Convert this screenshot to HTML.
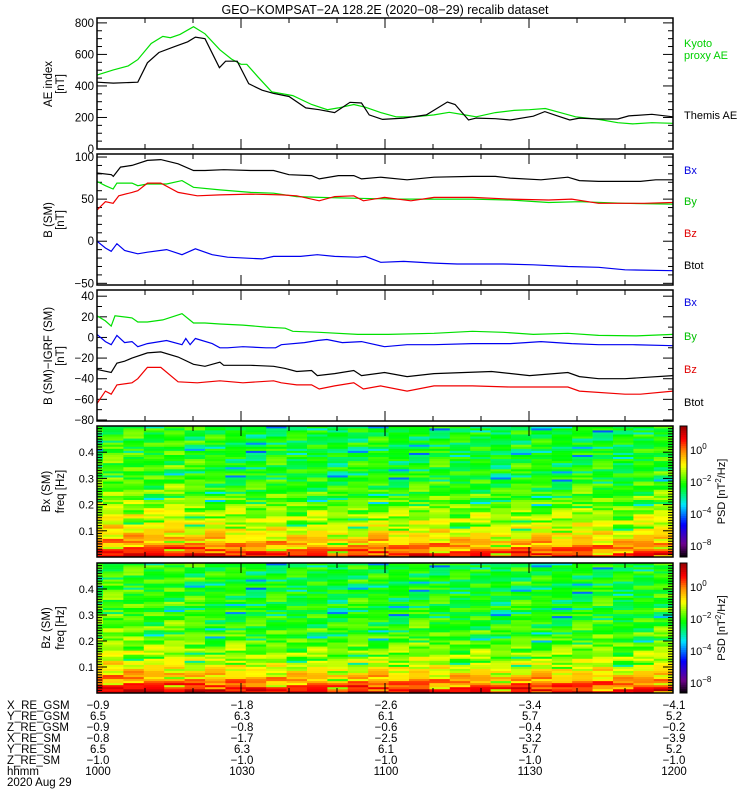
<!DOCTYPE html>
<html><head><meta charset="utf-8"><style>
body{margin:0;background:#fff;}
svg{display:block;font-family:"Liberation Sans",sans-serif;}
</style></head><body>
<svg id="chart" width="750" height="800" viewBox="0 0 750 800" xmlns="http://www.w3.org/2000/svg">
<text x="385" y="14" font-size="12.5" text-anchor="middle">GEO−KOMPSAT−2A 128.2E (2020−08−29) recalib dataset</text>
<g id="g"></g>
</svg>
<script>
// ---------- data ----------
const kyotoAE=[[0,469],[3.4,502],[6.5,527],[8.5,567],[11.3,669],[13.7,714],[15.3,706],[17.3,727],[20.1,776],[22.5,731],[25.6,629],[28,571],[30,537],[31.2,537],[33.6,455],[36.4,363],[40.8,339],[44.7,282],[48,249],[50.3,261],[53.5,282],[55.9,265],[59.1,231],[62.3,204],[66.2,204],[70.2,216],[73.4,233],[76.6,216],[79,204],[83,231],[86.9,245],[90.1,249],[93.4,257],[96.5,231],[99.7,204],[104.5,188],[108.5,167],[111.6,159],[115.6,167],[120,163]];
const themisAE=[[0,424],[3.4,418],[8.5,424],[10.5,547],[12.9,612],[16.1,649],[18.9,680],[20.5,710],[22.5,700],[24,608],[25.5,516],[26.8,557],[29.2,557],[31.6,414],[34.4,373],[36.8,353],[40,333],[43.5,261],[46.3,249],[49.5,231],[52.7,296],[55.1,292],[56.7,216],[59.5,188],[63.9,196],[68.6,216],[71,261],[73,298],[74.6,282],[77.4,184],[79,196],[83,192],[86.1,184],[90.9,208],[93.3,237],[95.7,212],[98.5,184],[100.5,196],[104.5,190],[108.5,190],[110.8,210],[115.6,220],[120,204]];
const bBtot=[[0,81],[3,79],[3.4,77],[4.9,88],[7.3,90],[10.5,96],[13.3,97],[16.9,92],[20.1,84],[22.5,84],[26.4,85],[32,84],[36.8,84],[40,79],[44.7,78],[46.3,74],[50.3,78],[53.5,78],[55.1,74],[59.1,76],[64.6,73],[70.2,76],[78.2,77],[83,77],[86.1,75],[92.5,73],[98.1,76],[100.5,72],[104.5,71],[110,71],[113.2,71],[116.4,73],[120,73]];
const bBy=[[0,71],[1.75,66],[3.35,62],[4.15,69],[7.3,69],[8.5,66],[10.5,68],[14.5,68],[17.7,72],[20.1,64],[25.6,61],[32,58],[36.8,57],[41.6,53],[46.3,52],[54.3,51],[62.3,50],[70.2,50],[78.2,50],[86.1,49],[94.1,46],[100.5,47],[110,45],[120,44]];
const bBz=[[0,37],[1.75,47],[3.35,45],[4.55,54],[7.3,58],[8.5,60],[10.5,69],[13.3,69],[16.9,58],[20.9,54],[25.6,55],[32,56],[38.4,55],[41.6,54],[46.3,48],[49.5,53],[53.5,54],[55.5,48],[59.9,52],[65.4,48],[70.2,52],[78.2,52],[86.1,50],[94.1,49],[98.9,50],[104.5,45],[114,45],[120,46]];
const bBx=[[0,0],[1.75,-8],[2.95,-12],[4.15,-3],[5.75,-11],[8.5,-15],[10.5,-13],[14.5,-10],[17.7,-16],[20.5,-9],[24,-16],[27.2,-19],[34.4,-21],[36.8,-18],[42.4,-18],[45.9,-16],[49.5,-18],[54.3,-19],[55.9,-18],[59.1,-25],[63.9,-24],[70.2,-26],[75,-27],[84.6,-27],[90.9,-28],[98.1,-30],[104.5,-31],[110,-34],[120,-35]];
const dBy=[[0,21],[1.75,16],[2.95,11],[3.75,21],[7.3,19],[8.5,15],[10.5,15],[13.7,17],[15.7,20],[17.7,23],[20.1,14],[22.5,14],[25.6,13],[30.4,12],[35.2,10],[39.2,9],[40.8,6],[46.3,5],[54.3,3],[60.7,3],[70.2,4],[78.2,6],[84.6,5],[90.9,3],[98.1,4],[104.5,2],[112.4,1.5],[120,3]];
const dBx=[[0,3],[1.75,-4],[2.95,-7],[4.15,2],[5.75,-5],[7.3,-4],[8.5,-9],[10.5,-6],[14.5,-3],[17.7,-7],[18.5,-1],[19.4,-7],[20.5,-1],[24,-6],[25.6,-10],[27.2,-10],[30.4,-9],[35.2,-10],[37.2,-10],[38.4,-7],[43.2,-5],[45.9,-3],[47.9,-2],[51.1,-5],[55.1,-4],[59.9,-9],[64.6,-7],[70.2,-7],[78.2,-6],[86.1,-6],[92.5,-4],[98.9,-6],[104.5,-7],[111.6,-7],[120,-8]];
const dBtot=[[0,-31],[2.95,-34],[4.15,-25],[5.75,-23],[7.3,-20],[10.5,-15],[13.3,-14],[16.9,-19],[20.1,-26],[22.5,-28],[25.6,-24],[26.4,-27],[32,-27],[36.8,-28],[39.2,-30],[41.6,-33],[44.7,-32],[45.9,-37],[49.5,-35],[53.5,-32],[55.1,-37],[59.9,-34],[64.6,-38],[70.2,-35],[82.2,-33],[90.1,-37],[98.1,-34],[100.5,-38],[104.5,-40],[110,-40],[113.2,-39],[120,-37]];
const dBz=[[0,-64],[1.75,-52],[2.95,-55],[4.15,-46],[7.3,-44],[8.5,-40],[10.5,-29],[13.3,-29],[16.9,-43],[20.9,-44],[25.6,-42],[30.4,-44],[36.8,-42],[38.4,-44],[41.6,-46],[44.7,-46],[46.3,-50],[49.5,-47],[53.5,-44],[55.5,-50],[59.1,-47],[64.6,-52],[70.2,-47],[78.2,-47],[86.1,-48],[98.1,-48],[100.5,-52],[110,-55],[113.2,-55],[120,-52]];
// spectrogram: frequency profile (colormap level) at these frequencies
const specFreqs=[0,0.025,0.05,0.075,0.1,0.15,0.2,0.25,0.3,0.4,0.5];
const specLevelBx=[0.91,0.84,0.77,0.72,0.69,0.645,0.605,0.57,0.55,0.535,0.525];
const specLevelBz=[0.93,0.86,0.78,0.72,0.68,0.625,0.59,0.565,0.55,0.54,0.535];
const colOffsetBx=[0.02,0.04,0.03,0.02,0.04,0.02,0.01,0,-0.01,0.01,-0.01,0,-0.02,0,0.01,-0.01,0,0.01,-0.01,0,-0.02,0.01,0,-0.01,0.01,0,-0.02,0.01,0.02];
const colOffsetBz=[0.03,0.04,0.03,0.02,0.03,0.02,0,0.01,-0.01,0,-0.01,0,-0.02,0.01,0,-0.01,0.01,0,-0.01,0,-0.02,0.01,0,-0.01,0,0.01,-0.02,0,0.02];
const jitter=[0.02,-0.05,0.06,-0.01,0.03,-0.09,0.04,0.0,-0.03,0.07,-0.06,0.01,0.05,-0.02,-0.2,0.03,-0.04,0.08,-0.07,0.02,0.0,-0.1,0.05,-0.03,0.06,-0.05,0.01,0.04,-0.08,0.03,-0.01,0.07,-0.04,0.02,-0.12,0.05,-0.02,0.0,0.06,-0.06,0.03,-0.03,0.08,-0.01,-0.05,0.04,-0.22,0.02,0.05,-0.07,0.01,0.03,-0.04,0.06,-0.02,0.0,-0.09,0.04,0.07,-0.03,0.02,-0.06,0.05,-0.01,0.03,-0.11,0.06,-0.04,0.01,0.08,-0.02,-0.05,0.04,0.0,-0.18,0.03,0.06,-0.03,0.02,-0.07,0.05,-0.01,0.04,-0.04,0.07,-0.02,0.01,-0.1,0.05,0.02,-0.05,0.06,-0.03,0.0,0.04,-0.06,0.03];
const timeTicks=[0,30,60,90,120];
const ephemNames=["X_RE_GSM","Y_RE_GSM","Z_RE_GSM","X_RE_SM","Y_RE_SM","Z_RE_SM","hhmm"];
const ephemValues=[["−0.9","−1.8","−2.6","−3.4","−4.1"],["6.5","6.3","6.1","5.7","5.2"],["−0.9","−0.8","−0.6","−0.4","−0.2"],["−0.8","−1.7","−2.5","−3.2","−3.9"],["6.5","6.3","6.1","5.7","5.2"],["−1.0","−1.0","−1.0","−1.0","−1.0"],["1000","1030","1100","1130","1200"]];

// ---------- helpers ----------
const NS="http://www.w3.org/2000/svg";
const G=document.getElementById('g');
const X0=97,X1=673;
const xs=m=>X0+(m/120)*(X1-X0);
function el(tag,attrs,parent){const e=document.createElementNS(NS,tag);for(const k in attrs)e.setAttribute(k,attrs[k]);(parent||G).appendChild(e);return e;}
function txt(s,x,y,attrs,parent){const e=el('text',Object.assign({x:x,y:y,'font-size':11},attrs||{}),parent);e.textContent=s;return e;}

function panel(name,top,bot,vmin,vmax,major,minor){
  const ys=v=>bot-(v-vmin)/(vmax-vmin)*(bot-top);
  const g=el('g',{});
  
  
  const start=Math.ceil(vmin/minor)*minor;
  for(let v=start;v<=vmax+1e-9;v+=minor){
    const isMaj=Math.abs(v/major-Math.round(v/major))<1e-6;
    const L=isMaj?10:5, y=ys(v);
    el('line',{x1:X0,x2:X0+L,y1:y,y2:y,stroke:'#000','stroke-width':1},g);
    el('line',{x1:X1,x2:X1-L,y1:y,y2:y,stroke:'#000','stroke-width':1},g);
    if(isMaj){const t=txt(String(v).replace('-','−'),X0-3,y+4,{'text-anchor':'end','font-size':11.5},g);
      }
  }
  timeAxis(g,top,bot);
  return {ys,g};
}
function timeAxis(g,top,bot){
  for(let m=0;m<=120;m+=10){
    const L=(m%30===0)?10:5,x=xs(m);
    el('line',{x1:x,x2:x,y1:bot,y2:bot-L,stroke:'#000'},g);
    el('line',{x1:x,x2:x,y1:top,y2:top+L,stroke:'#000'},g);
  }
}
function frame(g,top,bot){el('rect',{x:X0,y:top,width:X1-X0,height:bot-top,fill:'none',stroke:'#000','stroke-width':1.5},g);}
function series(p,data,color,name){
  const pts=data.map(d=>xs(d[0]).toFixed(1)+','+p.ys(d[1]).toFixed(1)).join(' ');
  const e=el('polyline',{points:pts,fill:'none',stroke:color,'stroke-width':1.2},p.g);
  
  
}
function ylabel(lines,cx,cy,g){
  lines.forEach((s,i)=>{const t=txt(s,0,0,{'text-anchor':'middle','font-size':11.5,transform:`translate(${cx[i]},${cy}) rotate(-90)`},g);
    });
}
function legend(items,x,g){items.forEach(it=>{const t=txt(it[0],x,it[1],{fill:it[2],'font-size':11},g);
  });}

// ---------- panel 1 ----------
let p=panel('ae-index-panel',18,149,0,831,200,50);
series(p,kyotoAE,'#00e000','kyoto-proxy-ae-line');
series(p,themisAE,'#000','themis-ae-line');
frame(p.g,18,149);
ylabel(['AE index','[nT]'],[52,64],84,p.g);
legend([['Kyoto',47,'#00d000'],['proxy AE',59,'#00d000'],['Themis AE',119,'#000']],684,p.g);

// ---------- panel 2 ----------
p=panel('b-sm-panel',154,285,-52,103.6,50,10);
series(p,bBtot,'#000','btot-line');
series(p,bBy,'#00e000','by-line');
series(p,bBz,'#f00000','bz-line');
series(p,bBx,'#0000f0','bx-line');
frame(p.g,154,285);
ylabel(['B (SM)','[nT]'],[52,64],220,p.g);
legend([['Bx',174,'#0000e0'],['By',205,'#00c000'],['Bz',237,'#e00000'],['Btot',269,'#000']],684,p.g);

// ---------- panel 3 ----------
p=panel('b-minus-igrf-panel',290,421,-81,46,20,10);
series(p,dBy,'#00e000','dby-line');
series(p,dBx,'#0000f0','dbx-line');
series(p,dBtot,'#000','dbtot-line');
series(p,dBz,'#f00000','dbz-line');
frame(p.g,290,421);
ylabel(['B (SM)−IGRF (SM)','[nT]'],[52,64],356,p.g);
legend([['Bx',306,'#0000e0'],['By',340,'#00c000'],['Bz',373,'#e00000'],['Btot',406,'#000']],684,p.g);

// ---------- colormap ----------
const cstops=[[0,[0,0,0]],[0.1,[110,0,140]],[0.25,[0,0,255]],[0.4,[0,230,255]],[0.55,[0,255,0]],[0.7,[255,255,0]],[0.8,[255,150,0]],[0.9,[255,0,0]],[1,[150,0,0]]];
function cmap(t){t=Math.max(0,Math.min(1,t));for(let i=1;i<cstops.length;i++){if(t<=cstops[i][0]){const a=cstops[i-1],b=cstops[i],f=(t-a[0])/(b[0]-a[0]);
  return 'rgb('+a[1].map((c,k)=>Math.round(c+(b[1][k]-c)*f)).join(',')+')';}}return 'rgb(150,0,0)';}
function interp(arrX,arrY,x){for(let i=1;i<arrX.length;i++){if(x<=arrX[i]){const f=(x-arrX[i-1])/(arrX[i]-arrX[i-1]);return arrY[i-1]+f*(arrY[i]-arrY[i-1]);}}return arrY[arrY.length-1];}

function spectrogram(name,top,bot,levels,colOff,label){
  const g=el('g',{});
  
  
  const NR=64,NC=colOff.length;
  const fy=f=>bot-(f/0.5)*(bot-top);
  const edges=[0];for(let c=1;c<=NC;c++)edges.push(Math.min(120,1.25+(c-1)*4.25));
  for(let c=0;c<NC;c++){
    const xa=xs(edges[c]),xb=xs(edges[c+1]);
    for(let r=0;r<NR;r++){
      const f0=r*0.5/NR,f1=(r+1)*0.5/NR;
      const lvl=interp(specFreqs,levels,(f0+f1)/2)+colOff[c]+jitter[(r*7+c*13+(name.length*5))%jitter.length];
      const ya=fy(f1),yb=fy(f0);
      el('rect',{x:xa.toFixed(2),y:ya.toFixed(2),width:(xb-xa+0.3).toFixed(2),height:(yb-ya+0.3).toFixed(2),fill:cmap(lvl)},g);
    }
  }
  for(let k=1;k<50;k++){const f=k*0.01,y=fy(f),maj=k%10===0;
    el('line',{x1:X0,x2:X0+(maj?10:5),y1:y,y2:y,stroke:'#000'},g);
    el('line',{x1:X1,x2:X1-(maj?10:5),y1:y,y2:y,stroke:'#000'},g);
    if(maj){const t=txt('0.'+(k/10),X0-3,y+4,{'text-anchor':'end','font-size':11},g);}}
  timeAxis(g,top,bot);
  frame(g,top,bot);
  ylabel([label,'freq [Hz]'],[50,64],(top+bot)/2,g);
  const cb=el('g',{},g);
  
  
  const n=60;for(let i=0;i<n;i++){const y=bot-(i+1)*(bot-top)/n;el('rect',{x:680,y:y.toFixed(2),width:7,height:((bot-top)/n+0.4).toFixed(2),fill:cmap((i+0.5)/n)},cb);}
  el('rect',{x:680,y:top,width:7,height:bot-top,fill:'none',stroke:'#000'},cb);
  [['0',24],['−2',56],['−4',88],['−8',120]].forEach(l=>{const t=el('text',{x:690,y:top+l[1]+4,'font-size':11},cb);
    t.innerHTML='10<tspan dy="-5" font-size="8">'+l[0]+'</tspan>';});
  const pl=el('text',{transform:`translate(725,${(top+bot)/2}) rotate(-90)`,'text-anchor':'middle','font-size':11},cb);
  
  pl.innerHTML='PSD [nT<tspan dy="-4" font-size="8">2</tspan><tspan dy="4">/Hz]</tspan>';
}
spectrogram('bx-spectrogram',426,557,specLevelBx,colOffsetBx,'Bx (SM)');
spectrogram('bz-spectrogram',563,693,specLevelBz,colOffsetBz,'Bz (SM)');

// ---------- ephemeris ----------
const eg=el('g',{});


ephemNames.forEach((n,i)=>{const y=709+i*11;
  const t=txt(n,7,y,{'font-size':11.5},eg);
  ephemValues[i].forEach((v,j)=>{const tv=txt(v,xs(timeTicks[j])+1,y,{'text-anchor':'middle','font-size':11.5},eg);
    });
});
const dt=txt('2020 Aug 29',7,786,{'font-size':11.5},eg);

</script>
</body></html>
